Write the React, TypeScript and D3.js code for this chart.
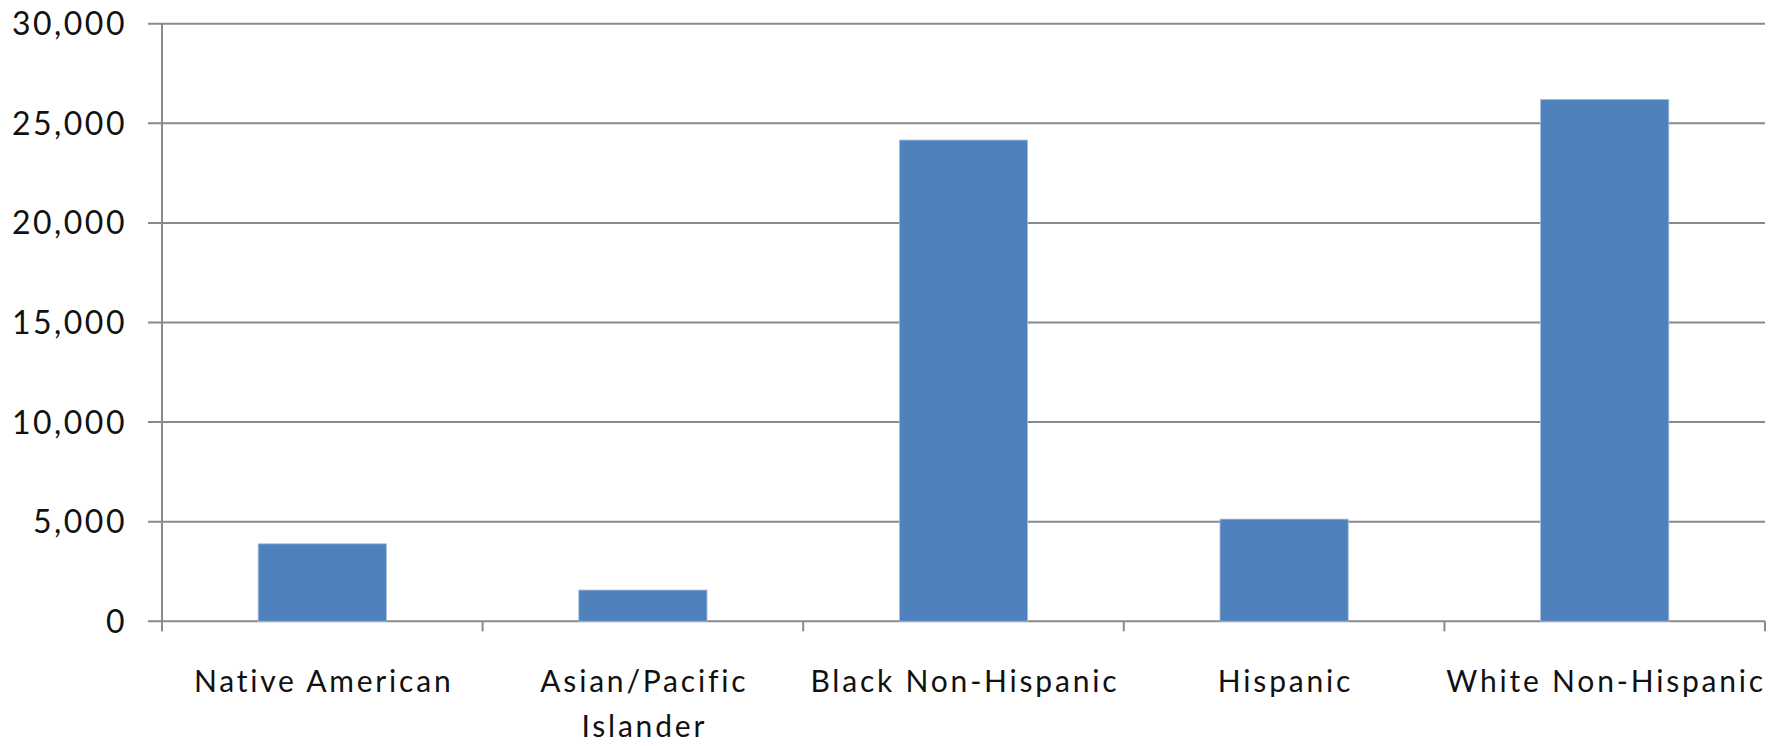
import React from "react";
import * as d3 from "d3";

const categories: string[][] = [
  ["Native American"],
  ["Asian/Pacific", "Islander"],
  ["Black Non-Hispanic"],
  ["Hispanic"],
  ["White Non-Hispanic"],
];
const values: number[] = [3890, 1570, 24160, 5130, 26200];
const yTicks: number[] = [0, 5000, 10000, 15000, 20000, 25000, 30000];

const W = 1781;
const H = 746;
const M = { left: 162, right: 1765, top: 23.7, bottom: 621.3 };
const FONT = "Lato, 'Open Sans', sans-serif";
const GRID = "#8a8a8a";

export default function App() {
  const keys = categories.map((c) => c.join(" "));
  const x = d3
    .scaleBand<string>()
    .domain(keys)
    .range([M.left, M.right])
    .paddingInner(0.6)
    .paddingOuter(0.3);
  const y = d3.scaleLinear().domain([0, 30000]).range([M.bottom, M.top]);
  const step = (M.right - M.left) / categories.length;
  const fmt = d3.format(",");

  return (
    <svg
      width={W}
      height={H}
      style={{ position: "absolute", left: 0, top: 0, background: "#fff" }}
      fontFamily={FONT}
    >
      <rect x={0} y={0} width={W} height={H} fill="#fff" />
      {yTicks.map((t) => (
        <g key={t}>
          <line
            x1={M.left - 14}
            x2={M.right}
            y1={y(t)}
            y2={y(t)}
            stroke={GRID}
            strokeWidth={2}
          />
          <text
            x={127}
            y={y(t) + 11.5}
            textAnchor="end"
            fontSize={32}
            letterSpacing={2.5}
            fill="#111"
          >
            {fmt(t)}
          </text>
        </g>
      ))}
      {values.map((v, i) => (
        <rect
          key={i}
          x={x(keys[i])}
          y={y(v)}
          width={x.bandwidth()}
          height={y(0) - y(v)}
          fill="#4F81BD"
          stroke="#a7c0de"
          strokeWidth={0.8}
        />
      ))}
      <line x1={M.left} x2={M.left} y1={M.top} y2={M.bottom + 10} stroke={GRID} strokeWidth={2} />
      {d3.range(categories.length + 1).map((i) => (
        <line
          key={i}
          x1={M.left + i * step}
          x2={M.left + i * step}
          y1={M.bottom}
          y2={M.bottom + 10}
          stroke={GRID}
          strokeWidth={2}
        />
      ))}
      {categories.map((lines, i) => {
        const cx = (x(keys[i]) as number) + x.bandwidth() / 2 + 1.4;
        return (
          <text key={i} textAnchor="middle" fontSize={30} letterSpacing={2.8} fill="#111">
            {lines.map((l, j) => (
              <tspan key={j} x={cx} y={691.7 + j * 45}>
                {l}
              </tspan>
            ))}
          </text>
        );
      })}
    </svg>
  );
}
